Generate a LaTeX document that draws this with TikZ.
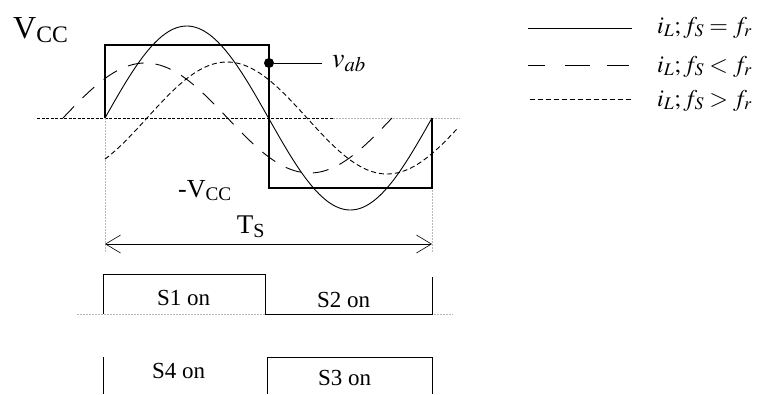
\documentclass[tikz,border=0pt]{standalone}
\usepackage{mathptmx}
\usepackage{fontspec}
\setmainfont{Liberation Serif}
\usetikzlibrary{arrows.meta}
\tikzset{
	wave/.style={line width=1.6pt},
	curve/.style={line width=0.9pt, smooth, samples=120},
	longdash/.style={dash pattern=on 16pt off 12pt},
	finedash/.style={dash pattern=on 5pt off 3pt},
	guide/.style={gray!55, line width=0.6pt, dash pattern=on 2pt off 1pt},
	gate/.style={line width=0.9pt},
	lbl/.style={inner sep=0pt, anchor=base west},
}

\begin{document}
\begin{tikzpicture}[x=1pt, y=-1pt]
	\useasboundingbox (0,0) rectangle (758,394);
	% Axis and guides:
	\draw[line width=0.8pt, dash pattern=on 3pt off 1.5pt] (37,118) -- (333,118);
	\draw[guide] (333,118) -- (460,118);
	\draw[guide] (105,118) -- (105,253);
	\draw[guide] (432,118) -- (432,253);
	\draw[guide] (77,314) -- (453,314);
	% Square wave and currents:
	\draw[wave] (105,118) -- (105,45) -- (269,45) -- (269,188) -- (432,188) -- (432,118);
	\draw[curve, domain=105:432] plot (\x, {118-92*sin((\x-105)/327*360)});
	\draw[curve, longdash, domain=63:392] plot (\x, {118-55*sin((\x-63)/329*360)});
	\draw[curve, finedash, domain=105:458] plot (\x, {118-56*sin((\x-147)/320*360)});
	\node[circle, fill, inner sep=0pt, minimum size=10pt] (dot) at (269,63) {};
	\coordinate (vabend) at (322,63);
	\draw[line width=0.9pt] (dot) -- (vabend);
	\node[lbl, font=\fontsize{28}{32}\selectfont] (vab) at (332,67) {$v_{ab}$};
	\node[lbl, font=\fontsize{32}{36}\selectfont] (vcc) at (13,38) {V\textsubscript{CC}};
	\node[lbl, font=\fontsize{26}{30}\selectfont] (vccneg) at (178,197) {-V\textsubscript{CC}};
	% Period:
	\coordinate (tsl) at (105,244);
	\coordinate (tsr) at (432,244);
	\draw[{Straight Barb[length=15pt,width=18pt]}-{Straight Barb[length=15pt,width=18pt]}, line width=0.6pt] (tsl) -- (tsr);
	\node[lbl, anchor=base, font=\fontsize{27}{30}\selectfont] (ts) at (251,233) {T\textsubscript{S}};
	% Switch states:
	\draw[gate] (103,314) -- (103,274) -- (265,274) -- (265,314) -- (432,314) -- (432,277);
	\draw[gate] (103,357) -- (103,394);
	\draw[gate] (267,394) -- (267,357) -- (432,357) -- (432,394);
	\node[lbl, font=\fontsize{23}{26}\selectfont] (s1) at (157,305) {S1 on};
	\node[lbl, font=\fontsize{23}{26}\selectfont] (s2) at (317,307) {S2 on};
	\node[lbl, font=\fontsize{23}{26}\selectfont] (s4) at (152,378) {S4 on};
	\node[lbl, font=\fontsize{23}{26}\selectfont] (s3) at (318,385) {S3 on};
	% Legend:
	\draw[line width=0.8pt] (528,28) -- (632,28);
	\draw[line width=0.8pt, dash pattern=on 17pt off 20pt on 25pt off 17pt on 22pt off 9pt] (528,65) -- (632,65);
	\draw[line width=0.8pt, finedash] (530,99) -- (632,99);
	\node[lbl, font=\fontsize{24}{28}\selectfont] (leg1) at (657,33) {$i_L; f_S = f_r$};
	\node[lbl, font=\fontsize{24}{28}\selectfont] (leg2) at (657,72) {$i_L; f_S < f_r$};
	\node[lbl, font=\fontsize{24}{28}\selectfont] (leg3) at (657,106) {$i_L; f_S > f_r$};
\end{tikzpicture}
\end{document}
